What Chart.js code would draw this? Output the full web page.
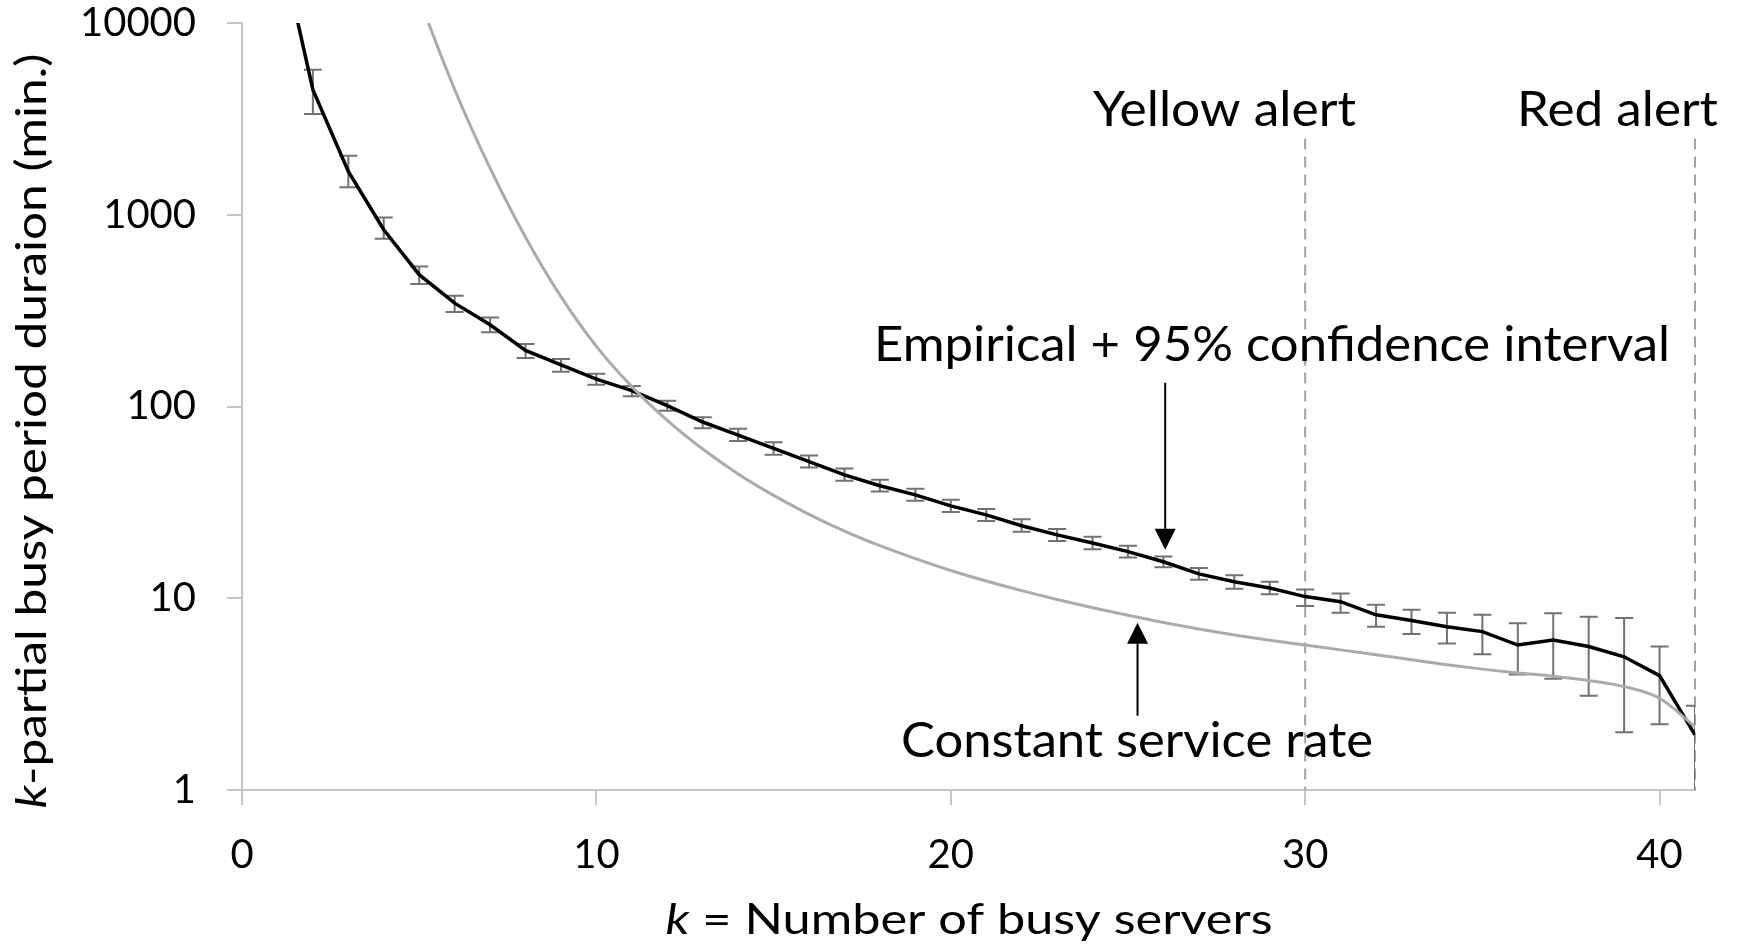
<!DOCTYPE html>
<html>
<head>
<meta charset="utf-8">
<script src="https://cdn.jsdelivr.net/npm/chart.js@4.4.1/dist/chart.umd.min.js"></script>
<style>
  html, body { margin: 0; padding: 0; background: #ffffff; }
  #wrap { width: 1740px; height: 945px; }
</style>
</head>
<body>
<div id="wrap"><canvas id="chart" width="1740" height="945"></canvas></div>
<script>
// k = number of busy servers
const busyServers = [1, 2, 3, 4, 5, 6, 7, 8, 9, 10, 11, 12, 13, 14, 15, 16, 17, 18, 19, 20,
  21, 22, 23, 24, 25, 26, 27, 28, 29, 30, 31, 32, 33, 34, 35, 36, 37, 38, 39, 40, 41];

// Empirical mean k-partial busy period duration (minutes)
const empiricalMinutes = [30000, 4490, 1683, 835, 487, 346, 267, 196, 165, 139,
  121, 101, 83, 71, 60.5, 51.6, 44, 38.6, 34.6, 30.3,
  27.2, 23.9, 21.4, 19.4, 17.5, 15.5, 13.4, 12.2, 11.3, 10.2,
  9.6, 8.2, 7.65, 7.1, 6.7, 5.7, 6.05, 5.6, 4.95, 3.95, 1.94];

// 95% confidence interval bounds
const empiricalLower = [null, 3350, 1390, 750, 436, 311, 244, 179, 152, 130,
  113, 95, 77, 66, 56, 48, 41, 36, 32.2, 28.2,
  25.3, 22.2, 19.9, 18.0, 16.3, 14.5, 12.5, 11.2, 10.5, 9.1,
  8.4, 7.1, 6.5, 5.8, 5.1, 4.0, 3.8, 3.1, 2.0, 2.2, 0.8];
const empiricalUpper = [null, 5700, 2030, 968, 537, 378, 291, 212, 177, 148,
  128, 107, 88, 76.5, 65, 55.5, 47.5, 41.5, 37.2, 32.6,
  29.2, 25.8, 23.0, 20.9, 18.8, 16.5, 14.4, 13.2, 12.2, 11.1,
  10.6, 9.25, 8.7, 8.4, 8.2, 7.4, 8.35, 8.0, 7.9, 5.6, 2.75];

// Model with a constant service rate
const constantRateMinutes = [null, null, null, 49000, 13600, 4500, 1750, 764, 374, 206,
  127, 84.7, 60, 44.5, 34.4, 27.4, 22.4, 18.8, 16.1, 13.96,
  12.3, 10.96, 9.86, 8.93, 8.15, 7.48, 6.92, 6.44, 6.04, 5.7,
  5.38, 5.07, 4.78, 4.5, 4.27, 4.08, 3.92, 3.72, 3.46, 3.01, 2.14];

const xTickValues = [0, 10, 20, 30, 40];
const yTickValues = [1, 10, 100, 1000, 10000];

// Alert thresholds (k) and their names
const alertThresholds = [30, 41];
const alertNames = ['Yellow alert', 'Red alert'];

const FONT = 'Lato, "Open Sans", "DejaVu Sans", sans-serif';
const AXIS_COLOR = '#c6c6c6';

// Text blocks: left edge / centre, target width, baseline
const textLayout = {
  alerts: [
    { left: 1093, width: 263, baseline: 126, size: 49 },
    { left: 1517, width: 201, baseline: 126, size: 49 }
  ],
  empirical: { left: 874, width: 796, baseline: 361, size: 49 },
  constant: { left: 901, width: 472, baseline: 757, size: 49 },
  xTitle: { center: 969, width: 607, baseline: 934, size: 42 },
  yTitle: { centerY: 431, width: 755, baselineX: 46, size: 42 }
};

// Pointer arrows in data coordinates (k, minutes)
const pointerArrows = [
  { k: 26.05, from: 133, to: 17.9 },
  { k: 25.27, from: 2.44, to: 7.45 }
];
const alertLineTop = 2500;

function drawFitted(ctx, parts, left, baseline, width, size) {
  const fonts = parts.map(p => (p.italic ? 'italic ' : '') + size + 'px ' + FONT);
  let total = 0;
  const widths = parts.map((p, i) => {
    ctx.font = fonts[i];
    const w = ctx.measureText(p.text).width;
    total += w;
    return w;
  });
  ctx.save();
  ctx.translate(left, baseline);
  ctx.scale(width / total, 1);
  ctx.textAlign = 'left';
  ctx.textBaseline = 'alphabetic';
  ctx.fillStyle = '#000000';
  let cx = 0;
  parts.forEach((p, i) => {
    ctx.font = fonts[i];
    ctx.fillText(p.text, cx, 0);
    cx += widths[i];
  });
  ctx.restore();
}

// Vertical dashed alert lines, under the curves
const alertLinesPlugin = {
  id: 'alertLines',
  beforeDatasetsDraw(chart) {
    const { ctx, scales: { x, y } } = chart;
    ctx.save();
    ctx.strokeStyle = '#a3a3a3';
    ctx.lineWidth = 2;
    ctx.setLineDash([11, 7]);
    alertThresholds.forEach(k => {
      const px = x.getPixelForValue(k);
      ctx.beginPath();
      ctx.moveTo(px, y.getPixelForValue(alertLineTop));
      ctx.lineTo(px, y.getPixelForValue(1));
      ctx.stroke();
    });
    ctx.restore();
  }
};

// Confidence interval whiskers for the empirical series
const errorBarsPlugin = {
  id: 'errorBars',
  beforeDatasetsDraw(chart) {
    const { ctx, chartArea, scales: { x, y } } = chart;
    ctx.save();
    ctx.beginPath();
    ctx.rect(chartArea.left, chartArea.top, chartArea.right - chartArea.left, chartArea.bottom - chartArea.top);
    ctx.clip();
    ctx.strokeStyle = '#727272';
    ctx.lineWidth = 2;
    const cap = 9;
    busyServers.forEach((k, i) => {
      const lo = empiricalLower[i], hi = empiricalUpper[i];
      if (lo == null || hi == null) return;
      const px = x.getPixelForValue(k);
      const yl = y.getPixelForValue(lo), yh = y.getPixelForValue(hi);
      ctx.beginPath();
      ctx.moveTo(px, yl); ctx.lineTo(px, yh);
      ctx.moveTo(px - cap, yl); ctx.lineTo(px + cap, yl);
      ctx.moveTo(px - cap, yh); ctx.lineTo(px + cap, yh);
      ctx.stroke();
    });
    ctx.restore();
  }
};

// Labels, pointer arrows and axis titles
const annotationPlugin = {
  id: 'annotations',
  afterDraw(chart) {
    const { ctx, scales: { x, y } } = chart;
    const L = textLayout;

    alertNames.forEach((name, i) => {
      const t = L.alerts[i];
      drawFitted(ctx, [{ text: name }], t.left, t.baseline, t.width, t.size);
    });
    drawFitted(ctx, [{ text: 'Empirical + 95% confidence interval' }],
      L.empirical.left, L.empirical.baseline, L.empirical.width, L.empirical.size);
    drawFitted(ctx, [{ text: 'Constant service rate' }],
      L.constant.left, L.constant.baseline, L.constant.width, L.constant.size);

    ctx.save();
    ctx.strokeStyle = '#000000';
    ctx.fillStyle = '#000000';
    ctx.lineWidth = 2;
    pointerArrows.forEach(a => {
      const px = x.getPixelForValue(a.k);
      const y0 = y.getPixelForValue(a.from);
      const y1 = y.getPixelForValue(a.to);
      const dir = Math.sign(y1 - y0);
      const head = 21, half = 10.5;
      ctx.beginPath();
      ctx.moveTo(px, y0);
      ctx.lineTo(px, y1 - dir * head);
      ctx.stroke();
      ctx.beginPath();
      ctx.moveTo(px, y1);
      ctx.lineTo(px - half, y1 - dir * head);
      ctx.lineTo(px + half, y1 - dir * head);
      ctx.closePath();
      ctx.fill();
    });
    ctx.restore();

    const xt = L.xTitle;
    drawFitted(ctx, [{ text: 'k', italic: true }, { text: ' = Number of busy servers' }],
      xt.center - xt.width / 2, xt.baseline, xt.width, xt.size);

    const yt = L.yTitle;
    ctx.save();
    ctx.translate(yt.baselineX, yt.centerY);
    ctx.rotate(-Math.PI / 2);
    drawFitted(ctx, [{ text: 'k', italic: true }, { text: '-partial busy period duraion (min.)' }],
      -yt.width / 2, 0, yt.width, yt.size);
    ctx.restore();
  }
};

const toPoints = values => busyServers
  .map((k, i) => ({ x: k, y: values[i] }))
  .filter(p => p.y != null);

new Chart(document.getElementById('chart'), {
  type: 'line',
  data: {
    datasets: [
      {
        label: 'Constant service rate',
        data: toPoints(constantRateMinutes),
        borderColor: '#ababab',
        borderWidth: 3,
        pointRadius: 0,
        cubicInterpolationMode: 'monotone',
        fill: false
      },
      {
        label: 'Empirical',
        data: toPoints(empiricalMinutes),
        borderColor: '#000000',
        borderWidth: 3.5,
        pointRadius: 0,
        tension: 0,
        fill: false
      }
    ]
  },
  options: {
    responsive: false,
    animation: false,
    devicePixelRatio: 1,
    layout: { autoPadding: false, padding: { top: 23, right: 45, left: 0, bottom: 0 } },
    plugins: {
      legend: { display: false },
      tooltip: { enabled: false },
      title: { display: false }
    },
    scales: {
      x: {
        type: 'linear',
        min: 0,
        max: 41,
        afterBuildTicks: scale => { scale.ticks = xTickValues.map(v => ({ value: v })); },
        afterFit: scale => {
          scale.height = 155;
          scale.paddingLeft = 0;
          scale.paddingRight = 0;
        },
        grid: { drawOnChartArea: false, drawTicks: true, tickLength: 15, color: AXIS_COLOR, lineWidth: 2 },
        border: { display: true, color: AXIS_COLOR, width: 2 },
        ticks: {
          color: '#000000',
          padding: 27,
          maxRotation: 0,
          font: { family: FONT, size: 40, lineHeight: 1.15 },
          callback: v => String(v)
        }
      },
      y: {
        type: 'logarithmic',
        min: 1,
        max: 10000,
        afterBuildTicks: scale => { scale.ticks = yTickValues.map(v => ({ value: v })); },
        afterFit: scale => {
          scale.width = 242;
          scale.paddingTop = 0;
          scale.paddingBottom = 0;
        },
        grid: { drawOnChartArea: false, drawTicks: true, tickLength: 15, color: AXIS_COLOR, lineWidth: 2 },
        border: { display: true, color: AXIS_COLOR, width: 2 },
        ticks: {
          color: '#000000',
          padding: 31,
          font: { family: FONT, size: 40, lineHeight: 1.15 },
          callback: v => String(v)
        }
      }
    }
  },
  plugins: [alertLinesPlugin, errorBarsPlugin, annotationPlugin]
});
</script>
</body>
</html>
